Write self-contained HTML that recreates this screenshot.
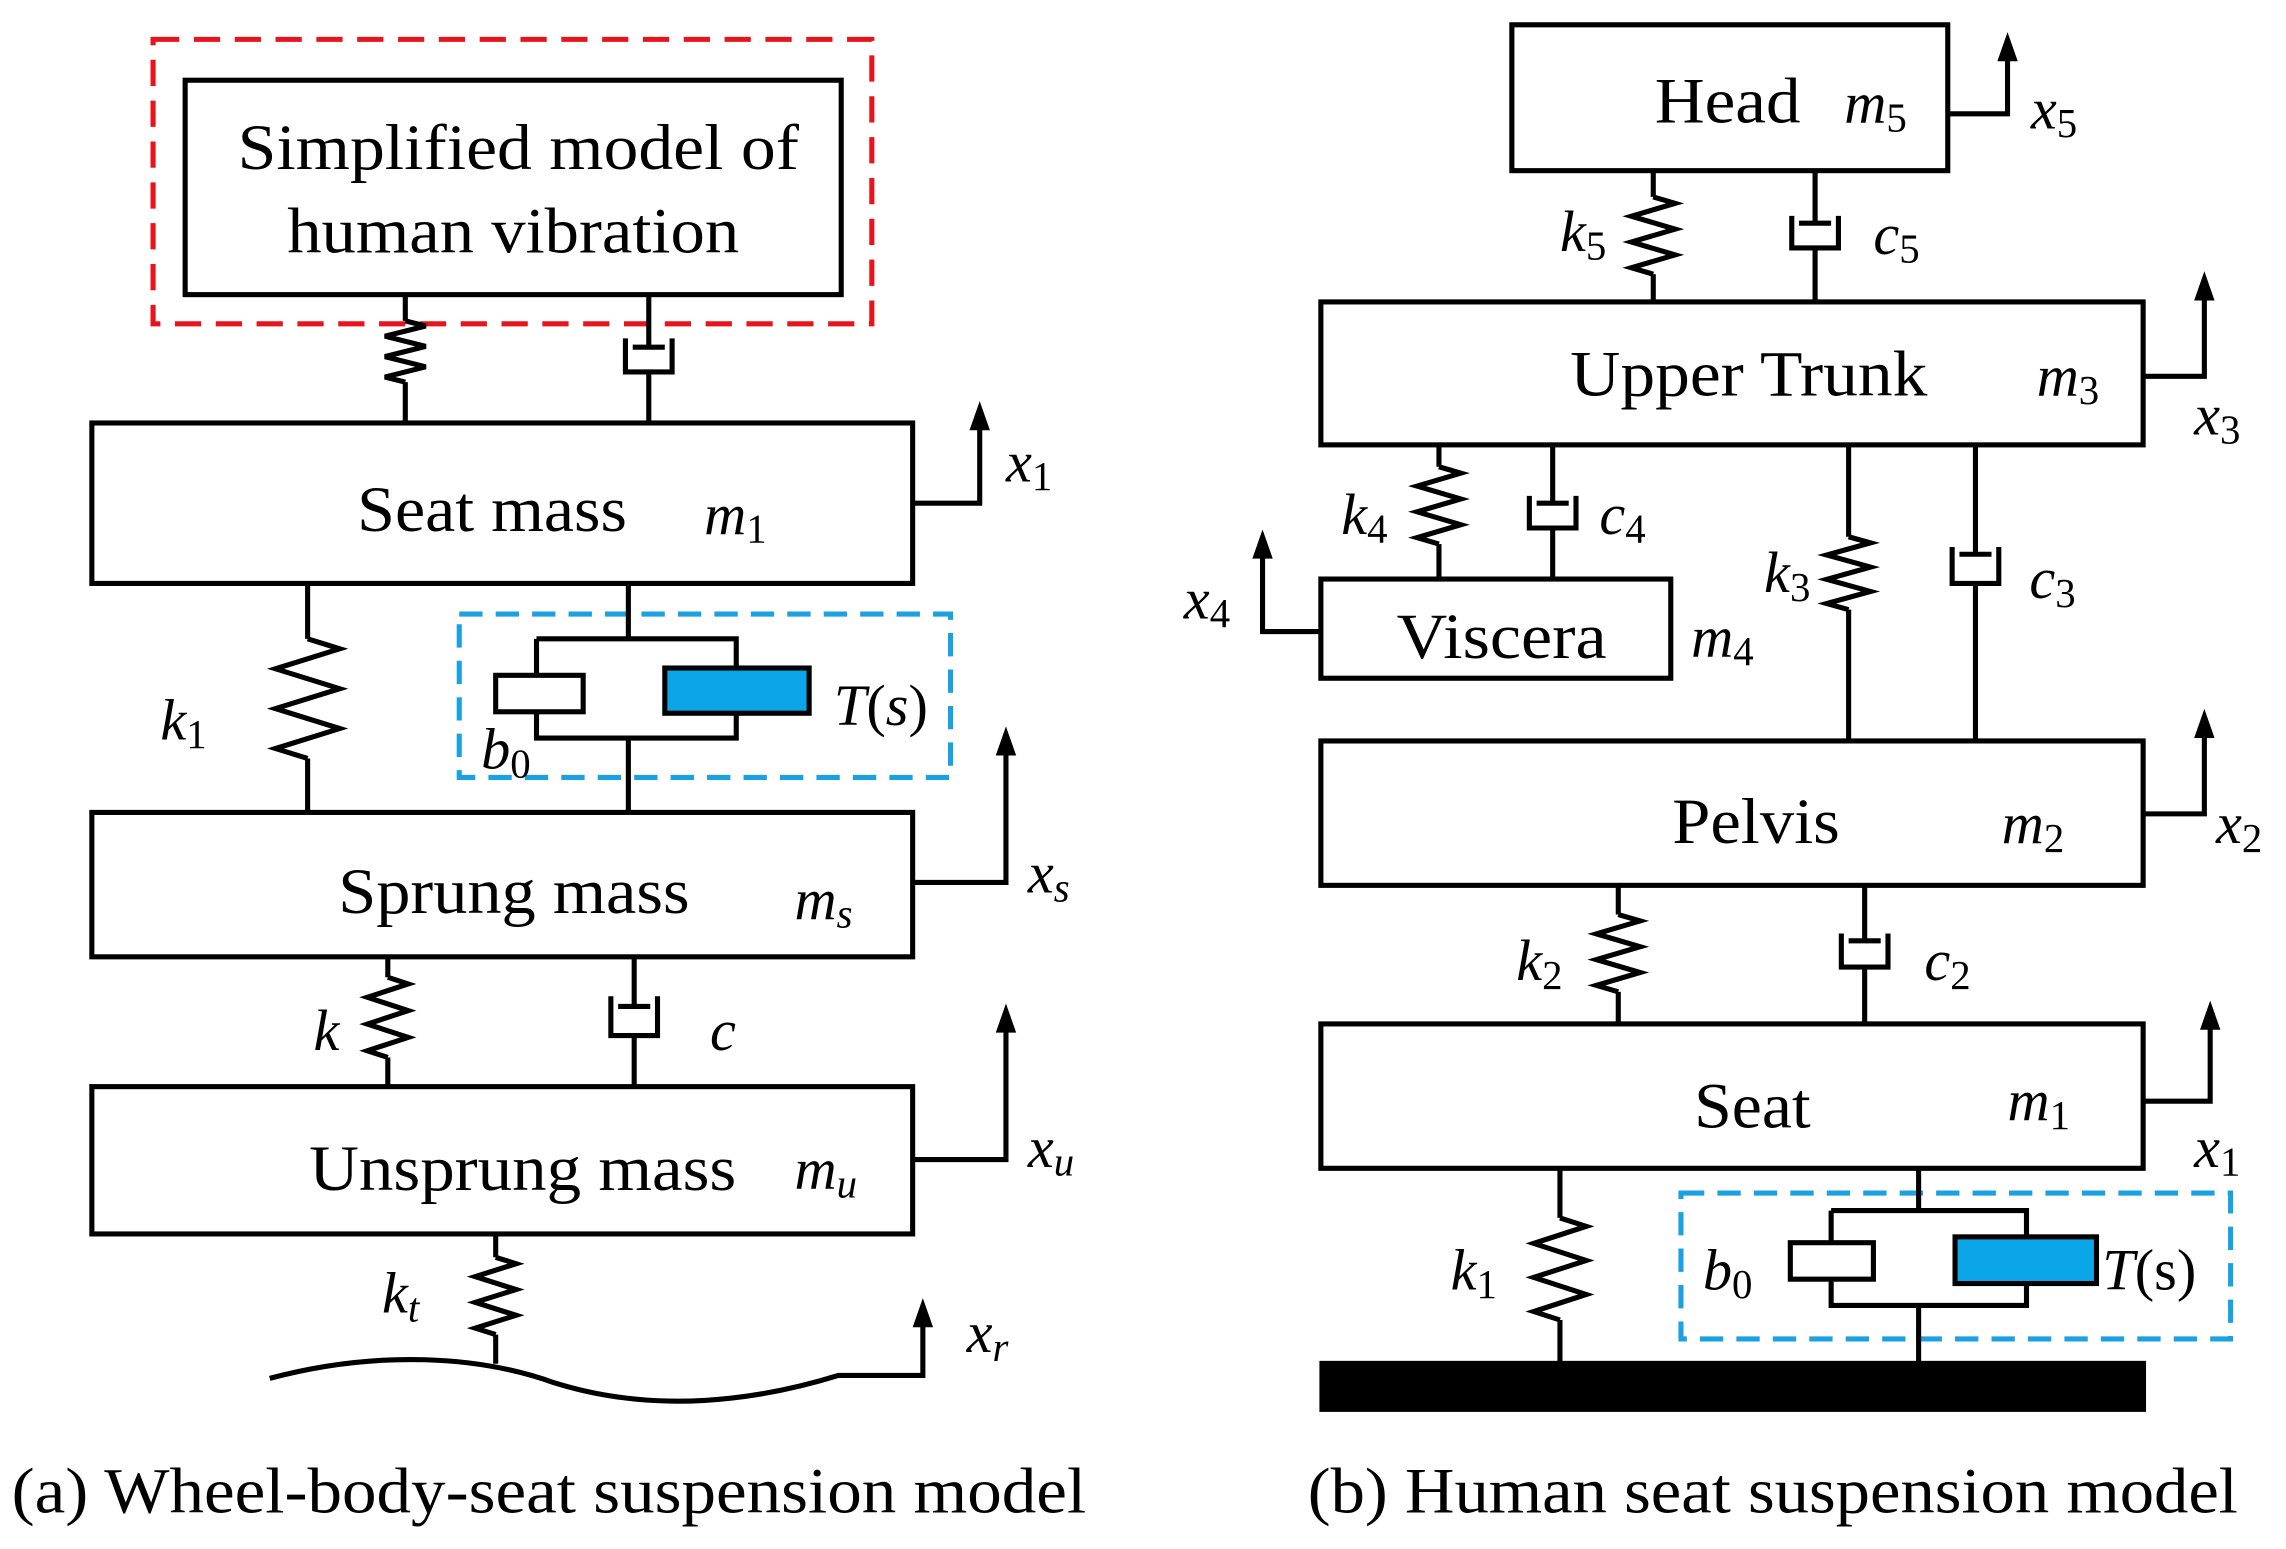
<!DOCTYPE html>
<html><head><meta charset="utf-8"><style>
html,body{margin:0;padding:0;background:#fff}
svg{display:block}
text{font-family:"Liberation Serif",serif;fill:#000}
.i{font-style:italic}
</style></head><body>
<svg width="2286" height="1549" viewBox="0 0 1568 1062" preserveAspectRatio="none" xmlns="http://www.w3.org/2000/svg">
<g fill="none" stroke="#000" stroke-width="3.5">
<!-- LEFT -->
<rect x="105" y="27" width="493" height="195" stroke="#e8141b" stroke-dasharray="18,10" stroke-width="3.5"/>
<rect x="127" y="55" width="450" height="147"/>
<path d="M278,202V220"/><polyline points="278,220 292,223.5 264,230.5 292,237.5 264,244.5 292,251.5 264,258.5 278,262"/><path d="M278,262V290"/>
<path d="M445,202V238M434,238H456M429,232V255H461V232M445,255V290"/>
<rect x="63" y="290" width="563" height="110"/>
<path d="M626,345H672V285"/>
<path d="M211,400V438"/><polyline points="211,438 233,444.8 189,458.5 233,472.2 189,485.8 233,499.5 189,513.2 211,520"/><path d="M211,520V557"/>
<rect x="315" y="421" width="337" height="112" stroke="#1ba1e2" stroke-dasharray="16,9"/>
<path d="M431,400V438M368,438H505V506H368V438M431,506V557"/>
<rect x="340" y="463" width="60" height="25" fill="#fff"/>
<rect x="456" y="458" width="99" height="31" fill="#0aa6e8"/>
<rect x="63" y="557" width="563" height="99"/>
<path d="M626,605H690V508"/>
<path d="M266,656V670"/><polyline points="266,670 280,674.6 252,683.75 280,692.9 252,702.1 280,711.25 252,720.4 266,725"/><path d="M266,725V745"/>
<path d="M435,656V690M424,690H446M419,683V710H451V683M435,710V745"/>
<rect x="63" y="745" width="563" height="101"/>
<path d="M626,795H690V698"/>
<path d="M340,846V862"/><polyline points="340,862 354,866.4 326,875.25 354,884.1 326,892.9 354,901.75 326,910.6 340,915"/><path d="M340,915V935"/>
<path d="M185,945C260,925 330,930 380,948C450,970 520,960 575,943H633V900"/>
<!-- RIGHT -->
<rect x="1037" y="17" width="299" height="100"/>
<path d="M1336,78H1377V32"/>
<path d="M1134,117V135"/><polyline points="1134,135 1149,139.4 1119,148.25 1149,157.1 1119,165.9 1149,174.75 1119,183.6 1134,188"/><path d="M1134,188V207"/>
<path d="M1245,117V153M1234,153H1256M1229,148V170H1261V148M1245,170V207"/>
<rect x="906" y="207" width="564" height="98"/>
<path d="M1470,258H1512V196"/>
<path d="M987,305V320"/><polyline points="987,320 1002,324.4 972,333.25 1002,342.1 972,350.9 1002,359.75 972,368.6 987,373"/><path d="M987,373V397"/>
<path d="M1065,305V345M1054,345H1076M1049,340V362H1081V340M1065,362V397"/>
<rect x="906" y="397" width="240" height="68"/>
<path d="M906,433H866V373"/>
<path d="M1268,305V368"/><polyline points="1268,368 1283,372.2 1253,380.5 1283,388.8 1253,397.2 1283,405.5 1253,413.8 1268,418"/><path d="M1268,418V508"/>
<path d="M1355,305V380M1344,380H1366M1339,375V400H1371V375M1355,400V508"/>
<rect x="906" y="508" width="564" height="99"/>
<path d="M1470,558H1512V496"/>
<path d="M1110,607V627"/><polyline points="1110,627 1125,631.4 1095,640.25 1125,649.1 1095,657.9 1125,666.75 1095,675.6 1110,680"/><path d="M1110,680V702"/>
<path d="M1279,607V645M1268,645H1290M1263,640V663H1295V640M1279,663V702"/>
<rect x="906" y="702" width="564" height="99"/>
<path d="M1470,755H1516V696"/>
<path d="M1070,801V835"/><polyline points="1070,835 1088,840.8 1052,852.5 1088,864.2 1052,875.8 1088,887.5 1052,899.2 1070,905"/><path d="M1070,905V935"/>
<rect x="1153" y="818" width="377" height="100" stroke="#1ba1e2" stroke-dasharray="16,9"/>
<path d="M1316,801V830M1256,830H1390V895H1256V830M1316,895V935"/>
<rect x="1228" y="852" width="57" height="25" fill="#fff"/>
<rect x="1341" y="848" width="97" height="32" fill="#0aa6e8"/>
</g>
<rect x="905" y="933" width="567" height="35" fill="#000"/>
<g fill="#000">
<polygon points="672,275 665,295 679,295"/>
<polygon points="690,498 683,518 697,518"/>
<polygon points="690,688 683,708 697,708"/>
<polygon points="633,890 626,910 640,910"/>
<polygon points="1377,22 1370,42 1384,42"/>
<polygon points="1512,186 1505,206 1519,206"/>
<polygon points="866,363 859,383 873,383"/>
<polygon points="1512,486 1505,506 1519,506"/>
<polygon points="1516,686 1509,706 1523,706"/>
</g>
<g font-size="44">
<text x="163" y="116" textLength="385" lengthAdjust="spacingAndGlyphs">Simplified model of</text>
<text x="197" y="173" textLength="310" lengthAdjust="spacingAndGlyphs">human vibration</text>
<text x="245" y="364" textLength="185" lengthAdjust="spacingAndGlyphs">Seat mass</text>
<text x="232" y="626" textLength="241" lengthAdjust="spacingAndGlyphs">Sprung mass</text>
<text x="212" y="816" textLength="293" lengthAdjust="spacingAndGlyphs">Unsprung mass</text>
<text x="1135" y="84" textLength="100" lengthAdjust="spacingAndGlyphs">Head</text>
<text x="1077" y="271" textLength="245" lengthAdjust="spacingAndGlyphs">Upper Trunk</text>
<text x="958" y="451" textLength="144" lengthAdjust="spacingAndGlyphs">Viscera</text>
<text x="1147" y="578" textLength="115" lengthAdjust="spacingAndGlyphs">Pelvis</text>
<text x="1162" y="773" textLength="80" lengthAdjust="spacingAndGlyphs">Seat</text>
<text x="8" y="1037" textLength="737" lengthAdjust="spacingAndGlyphs">(a) Wheel-body-seat suspension model</text>
<text x="897" y="1037" textLength="638" lengthAdjust="spacingAndGlyphs">(b) Human seat suspension model</text>
</g>
<g font-size="40" class="i">
<text x="483" y="366">m<tspan font-size="28" dy="6" font-style="normal">1</tspan></text>
<text x="690" y="330">x<tspan font-size="28" dy="6" font-style="normal">1</tspan></text>
<text x="110" y="507">k<tspan font-size="28" dy="6" font-style="normal">1</tspan></text>
<text x="330" y="527">b<tspan font-size="28" dy="6" font-style="normal">0</tspan></text>
<text x="572" y="497">T<tspan font-style="normal">(</tspan>s<tspan font-style="normal">)</tspan></text>
<text x="545" y="630">m<tspan font-size="28" dy="6">s</tspan></text>
<text x="705" y="612">x<tspan font-size="28" dy="6">s</tspan></text>
<text x="215" y="720">k</text>
<text x="487" y="720">c</text>
<text x="545" y="815">m<tspan font-size="28" dy="6">u</tspan></text>
<text x="705" y="800">x<tspan font-size="28" dy="6">u</tspan></text>
<text x="262" y="900">k<tspan font-size="28" dy="6">t</tspan></text>
<text x="663" y="927">x<tspan font-size="28" dy="6">r</tspan></text>
<text x="1265" y="84">m<tspan font-size="28" dy="6" font-style="normal">5</tspan></text>
<text x="1393" y="88">x<tspan font-size="28" dy="6" font-style="normal">5</tspan></text>
<text x="1070" y="172">k<tspan font-size="28" dy="6" font-style="normal">5</tspan></text>
<text x="1285" y="174">c<tspan font-size="28" dy="6" font-style="normal">5</tspan></text>
<text x="1397" y="271">m<tspan font-size="28" dy="6" font-style="normal">3</tspan></text>
<text x="1505" y="298">x<tspan font-size="28" dy="6" font-style="normal">3</tspan></text>
<text x="920" y="366">k<tspan font-size="28" dy="6" font-style="normal">4</tspan></text>
<text x="1097" y="366">c<tspan font-size="28" dy="6" font-style="normal">4</tspan></text>
<text x="1160" y="450">m<tspan font-size="28" dy="6" font-style="normal">4</tspan></text>
<text x="812" y="424">x<tspan font-size="28" dy="6" font-style="normal">4</tspan></text>
<text x="1210" y="406">k<tspan font-size="28" dy="6" font-style="normal">3</tspan></text>
<text x="1392" y="410">c<tspan font-size="28" dy="6" font-style="normal">3</tspan></text>
<text x="1373" y="578">m<tspan font-size="28" dy="6" font-style="normal">2</tspan></text>
<text x="1520" y="578">x<tspan font-size="28" dy="6" font-style="normal">2</tspan></text>
<text x="1040" y="672">k<tspan font-size="28" dy="6" font-style="normal">2</tspan></text>
<text x="1320" y="672">c<tspan font-size="28" dy="6" font-style="normal">2</tspan></text>
<text x="1377" y="768">m<tspan font-size="28" dy="6" font-style="normal">1</tspan></text>
<text x="1505" y="800">x<tspan font-size="28" dy="6" font-style="normal">1</tspan></text>
<text x="995" y="884">k<tspan font-size="28" dy="6" font-style="normal">1</tspan></text>
<text x="1168" y="884">b<tspan font-size="28" dy="6" font-style="normal">0</tspan></text>
<text x="1442" y="884">T<tspan font-style="normal">(s)</tspan></text>
</g>
</svg>
</body></html>
